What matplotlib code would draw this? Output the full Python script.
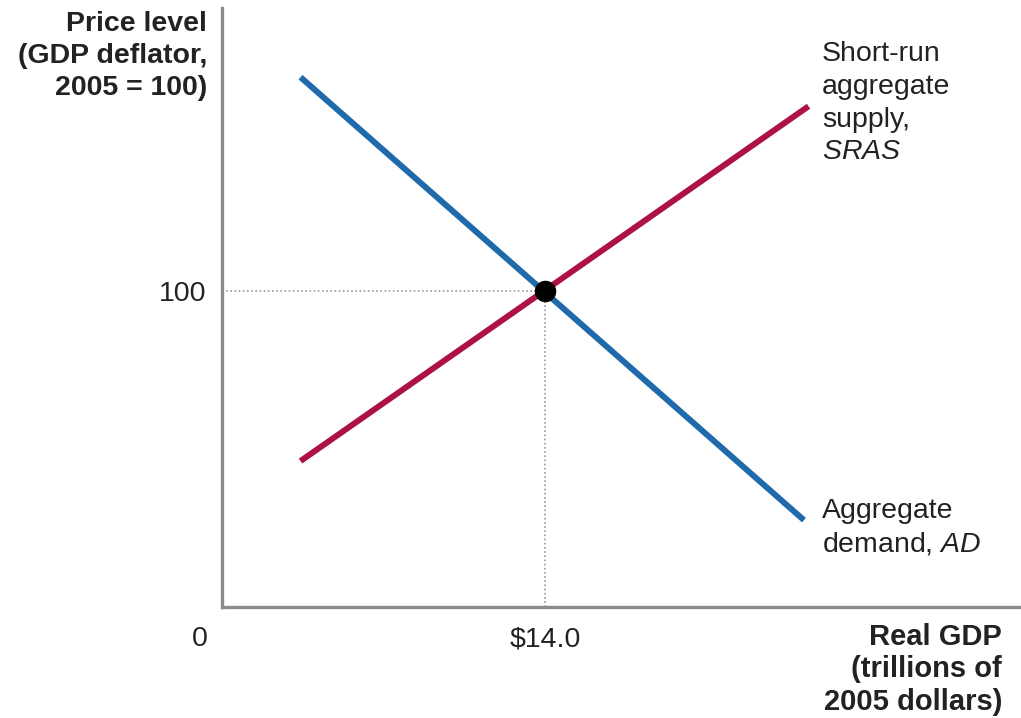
import numpy as np
import matplotlib
matplotlib.use("Agg")
import matplotlib.pyplot as plt
from matplotlib.transforms import ScaledTranslation

plt.rcParams['font.family'] = ['Liberation Sans', 'DejaVu Sans']
plt.rcParams['mathtext.fontset'] = 'custom'
plt.rcParams['mathtext.rm'] = 'Liberation Sans'
plt.rcParams['mathtext.it'] = 'Liberation Sans:italic'

# curve end points (real GDP, price level)
ad_x = [3.4, 25.2]
ad_p = [167.7, 27.5]
sras_x = [3.4, 25.4]
sras_p = [46.2, 158.5]
eq_x = 14.0
eq_p = 100
x_ticks = [0, 14.0]
x_tick_labels = ['0', '$14.0']
y_ticks = [100]
y_tick_labels = ['100']

blue = '#1f6aab'
red = '#ad1148'
txt = '#222222'
fs = 20.5

fig = plt.figure(figsize=(10.21, 7.18), dpi=100)
ax = fig.add_axes([222/1021, 1 - 607/718, 1 - 222/1021, 599/718])
ax.set_xlim(0, 34.6)
ax.set_ylim(0, 189.6)

ax.plot(ad_x, ad_p, color=blue, lw=4.3, solid_capstyle='butt')
ax.plot(sras_x, sras_p, color=red, lw=4.3, solid_capstyle='butt')

# dotted guides to the equilibrium
ax.plot([0, eq_x], [eq_p, eq_p], color='#999999', lw=1.2, ls=(0, (1, 1.5)))
ax.plot([eq_x, eq_x], [0, eq_p], color='#999999', lw=1.2, ls=(0, (1, 1.5)))
ax.plot([eq_x], [eq_p], 'o', color='black', ms=14.5, zorder=5)

for s in ['top', 'right']:
    ax.spines[s].set_visible(False)
for s in ['left', 'bottom']:
    ax.spines[s].set_color('#8c8c8c')
    ax.spines[s].set_linewidth(2.4)

ax.set_xticks(x_ticks)
ax.set_xticklabels(x_tick_labels)
ax.set_yticks(y_ticks)
ax.set_yticklabels(y_tick_labels)
ax.tick_params(length=0, labelsize=fs, colors=txt, pad=11)
ax.tick_params(axis='x', pad=14)
# the "0" sits left of the origin
zero = ax.get_xticklabels()[0]
zero.set_transform(zero.get_transform() + ScaledTranslation(-22/100, 0, fig.dpi_scale_trans))

fig.text(207/1021, 1 - 11/718, 'Price level\n(GDP deflator,\n2005 = 100)',
         ha='right', va='top', fontsize=fs, fontweight='bold', color=txt,
         linespacing=1.3)
fig.text(1002/1021, 1 - 623/718, 'Real GDP\n(trillions of\n2005 dollars)',
         ha='right', va='top', fontsize=fs + 0.5, fontweight='bold', color=txt,
         linespacing=1.2)

fig.text(822/1021, 1 - 41/718, 'Short-run\naggregate\nsupply,\n$SRAS$',
         ha='left', va='top', fontsize=fs, color=txt, linespacing=1.34)
fig.text(822/1021, 1 - 498/718, 'Aggregate\ndemand, $AD$',
         ha='left', va='top', fontsize=fs, color=txt, linespacing=1.32)

fig.savefig('out.png', dpi=100)
